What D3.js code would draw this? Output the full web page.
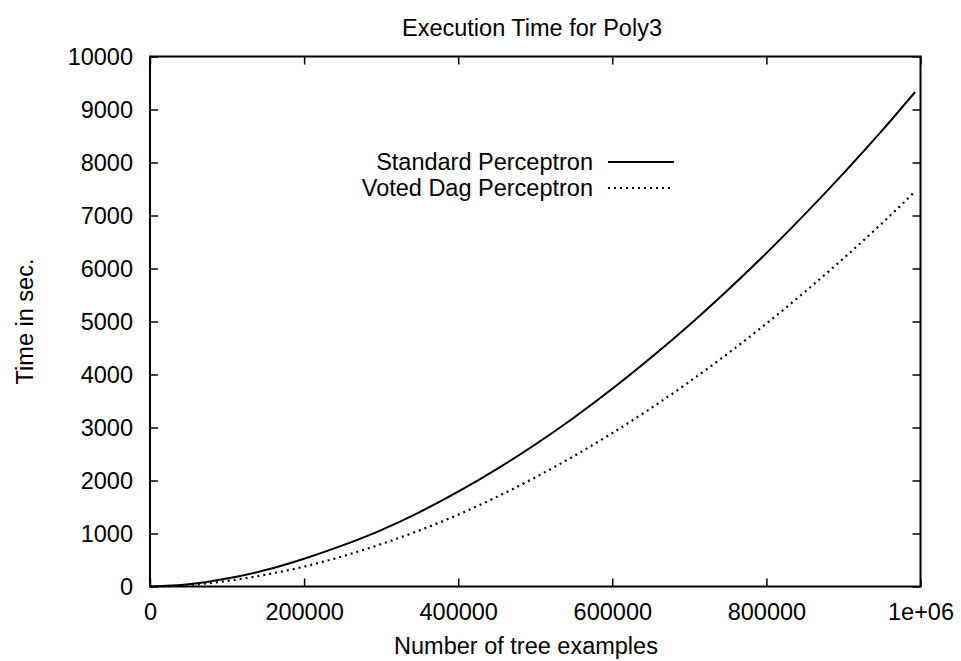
<!DOCTYPE html>
<html>
<head>
<meta charset="utf-8">
<script src="https://cdn.jsdelivr.net/npm/d3@7"></script>
<style>
  html, body { margin: 0; padding: 0; background: #fff; }
  svg text { font-family: "Liberation Sans", Arial, Helvetica, sans-serif; fill: #000; }
</style>
</head>
<body>
<svg id="chart" width="961" height="661"></svg>
<script>
const title = "Execution Time for Poly3";
const xLabel = "Number of tree examples";
const yLabel = "Time in sec.";
const seriesNames = ["Standard Perceptron", "Voted Dag Perceptron"];

const xValues = [0, 50000, 100000, 150000, 200000, 250000, 300000, 350000, 400000, 450000,
  500000, 550000, 600000, 650000, 700000, 750000, 800000, 850000, 900000, 950000, 993000];
const standardTimes = [0, 42, 150, 310, 525, 775, 1065, 1405, 1790, 2215,
  2680, 3185, 3730, 4315, 4935, 5595, 6290, 7025, 7795, 8600, 9330];
const votedTimes = [0, 28, 104, 222, 375, 570, 800, 1060, 1355, 1690,
  2058, 2460, 2895, 3362, 3863, 4396, 4962, 5560, 6190, 6852, 7455];

const xTicks = [0, 200000, 400000, 600000, 800000, 1000000];
const xTickLabels = ["0", "200000", "400000", "600000", "800000", "1e+06"];
const yTicks = [0, 1000, 2000, 3000, 4000, 5000, 6000, 7000, 8000, 9000, 10000];

const svg = d3.select("#chart");
const mLeft = 150, mRight = 920.5, mTop = 56.5, mBottom = 586.5;
const fontSize = 23.5;

const x = d3.scaleLinear().domain([0, 1000000]).range([mLeft, mRight]);
const y = d3.scaleLinear().domain([0, 10000]).range([mBottom, mTop]);

const tickLen = 8;
const axB = d3.axisBottom(x).tickValues(xTicks).tickSize(-tickLen).tickPadding(17)
  .tickFormat((d, i) => xTickLabels[i]);
const axT = d3.axisTop(x).tickValues(xTicks).tickSize(-tickLen).tickFormat("");
const axL = d3.axisLeft(y).tickValues(yTicks).tickSize(-tickLen).tickPadding(17)
  .tickFormat(d3.format("d"));
const axR = d3.axisRight(y).tickValues(yTicks).tickSize(-tickLen).tickFormat("");

function style(g) {
  g.select(".domain").remove();
  g.selectAll(".tick line").attr("stroke", "#000").attr("stroke-width", 1.5);
  g.selectAll(".tick text").style("font-size", fontSize + "px").attr("fill", "#000");
}
svg.append("g").attr("transform", `translate(0,${mBottom})`).call(axB).call(style);
svg.append("g").attr("transform", `translate(0,${mTop})`).call(axT).call(style);
svg.append("g").attr("transform", `translate(${mLeft},0)`).call(axL).call(style);
svg.append("g").attr("transform", `translate(${mRight},0)`).call(axR).call(style);

svg.append("rect").attr("x", mLeft).attr("y", mTop)
  .attr("width", mRight - mLeft).attr("height", mBottom - mTop)
  .attr("fill", "none").attr("stroke", "#000").attr("stroke-width", 2);

const line = d3.line().curve(d3.curveMonotoneX)
  .x((d, i) => x(xValues[i])).y(d => y(d));

svg.append("path").datum(standardTimes).attr("d", line)
  .attr("fill", "none").attr("stroke", "#000").attr("stroke-width", 2);
svg.append("path").datum(votedTimes).attr("d", line)
  .attr("fill", "none").attr("stroke", "#000").attr("stroke-width", 2.2)
  .attr("stroke-dasharray", "2,4");

svg.append("text").attr("x", 532).attr("y", 35.5)
  .attr("text-anchor", "middle").style("font-size", fontSize + "px").text(title);
svg.append("text").attr("x", 526).attr("y", 654)
  .attr("text-anchor", "middle").style("font-size", fontSize + "px").text(xLabel);
svg.append("text").attr("transform", `translate(33,${(mTop + mBottom) / 2}) rotate(-90)`)
  .attr("text-anchor", "middle").style("font-size", fontSize + "px").text(yLabel);

const legY = [162, 188];
const legTextX = 593, legL1 = 608, legL2 = 674;
seriesNames.forEach((name, i) => {
  svg.append("text").attr("x", legTextX).attr("y", legY[i]).attr("dy", "0.35em")
    .attr("text-anchor", "end").style("font-size", fontSize + "px").text(name);
  svg.append("line").attr("x1", legL1).attr("x2", legL2).attr("y1", legY[i]).attr("y2", legY[i])
    .attr("stroke", "#000").attr("stroke-width", i === 0 ? 2 : 2.2)
    .attr("stroke-dasharray", i === 0 ? null : "2,4");
});
</script>
</body>
</html>
